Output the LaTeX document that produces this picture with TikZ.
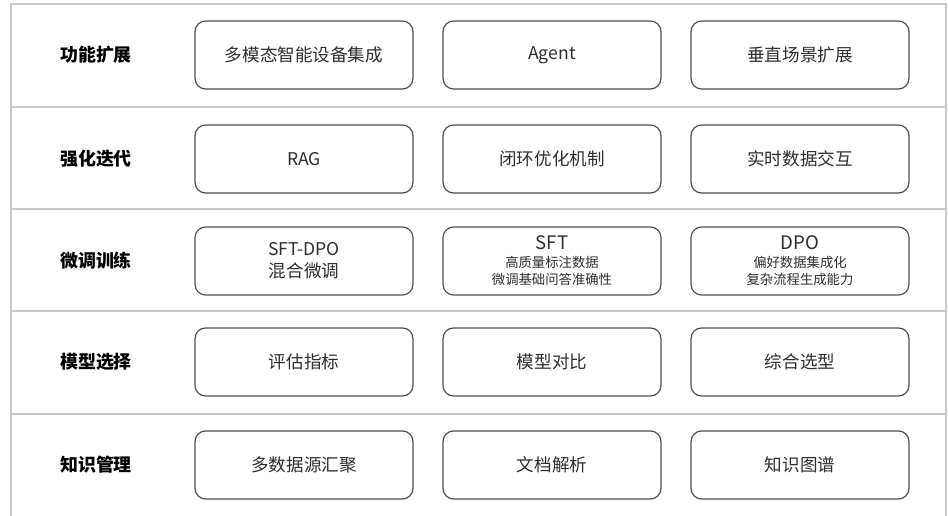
\documentclass[tikz,border=0pt]{standalone}
\usepackage{fontspec}
\setmainfont{Noto Sans CJK SC}
\usetikzlibrary{positioning}
\definecolor{framegray}{RGB}{200,200,200}
\definecolor{boxgray}{RGB}{80,80,80}
\definecolor{textgray}{RGB}{45,45,45}

\begin{document}
\begin{tikzpicture}[
      x=0.02cm, y=-0.02cm,
      layer/.style={font=\bfseries\fontsize{10.2}{12}\selectfont, text=black, anchor=center},
      item/.style={draw=boxgray, line width=0.7pt, rounded corners=6pt, minimum width=4.36cm, minimum height=1.36cm, align=center, font=\fontsize{10}{13}\selectfont, text=textgray},
      sep/.style={draw=framegray, line width=0.6pt}
    ]
    \useasboundingbox (0,0) rectangle (948,516);
    % frame and row separators
    \draw[sep] (11,516) -- (11,4) -- (946,4) -- (946,516);
    \foreach \yy in {107,209,311,414}
      \draw[sep] (11,\yy) -- (946,\yy);

    % layer labels
    \node[layer] (lext) at (96,55) {功能扩展};
    \node[layer] (liter) at (96,159) {强化迭代};
    \node[layer] (ltune) at (96,261) {微调训练};
    \node[layer] (lsel) at (96,362) {模型选择};
    \node[layer] (lkno) at (96,465) {知识管理};

    % function extension
    \node[item] (multimodal) at (304,55) {多模态智能设备集成};
    \node[item] (agent) at (552,55) {Agent};
    \node[item] (vertical) at (800,55) {垂直场景扩展};
    % reinforced iteration
    \node[item] (rag) at (304,159) {RAG};
    \node[item] (closedloop) at (552,159) {闭环优化机制};
    \node[item] (realtime) at (800,159) {实时数据交互};
    % fine tuning
    \node[item, font=\fontsize{10}{12.5}\selectfont] (mixed) at (304,261) {SFT-DPO\\混合微调};
    \node[item, font=\fontsize{7.6}{10}\selectfont] (sft) at (552,261) {{\fontsize{10.6}{12}\selectfont SFT}\\高质量标注数据\\微调基础问答准确性};
    \node[item, font=\fontsize{7.6}{10}\selectfont] (dpo) at (800,261) {{\fontsize{10.6}{12}\selectfont DPO}\\偏好数据集成化\\复杂流程生成能力};
    % model selection
    \node[item] (metrics) at (304,362) {评估指标};
    \node[item] (compare) at (552,362) {模型对比};
    \node[item] (choose) at (800,362) {综合选型};
    % knowledge management
    \node[item] (sources) at (304,465) {多数据源汇聚};
    \node[item] (parsing) at (552,465) {文档解析};
    \node[item] (graph) at (800,465) {知识图谱};
  \end{tikzpicture}
\end{document}
